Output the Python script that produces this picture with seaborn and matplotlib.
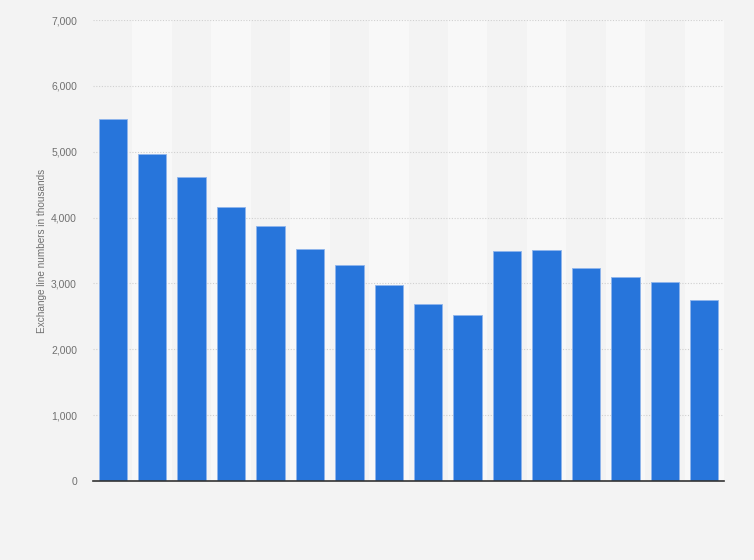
import numpy as np
import pandas as pd
import seaborn as sns
from matplotlib import pyplot as plt
from matplotlib.ticker import FuncFormatter

# no category labels are shown in the chart, so use plain positions
periods = [str(i) for i in range(1, 17)]
lines_k = [5490, 4960, 4610, 4155, 3865, 3530, 3275, 2970,
           2682, 2515, 3485, 3515, 3228, 3092, 3016, 2742]

df = pd.DataFrame({'period': periods, 'lines': lines_k})

sns.set_style('white')
plt.rcParams['font.family'] = ['Liberation Sans', 'DejaVu Sans']

fig = plt.figure(figsize=(7.54, 5.6), dpi=100)
fig.patch.set_facecolor('#f3f3f3')
ax = fig.add_axes([93 / 754, 79 / 560, 631 / 754, 461 / 560])
ax.set_facecolor('#f3f3f3')

# alternating column bands
for i in range(len(periods)):
    if i % 2 == 1:
        ax.axvspan(i - 0.5, i + 0.5, color='#f8f8f8', zorder=0, lw=0)

sns.barplot(data=df, x='period', y='lines', color='#2775db', saturation=1,
            width=0.72, edgecolor='#8fb5ec', linewidth=0.6, ax=ax, zorder=3)

ax.set_xlim(-0.5, len(periods) - 0.5)
ax.set_ylim(0, 7000)
ax.set_yticks(np.arange(0, 7001, 1000))
ax.yaxis.set_major_formatter(FuncFormatter(lambda v, p: f'{int(v):,}'))
ax.grid(axis='y', color='#d0d0d0', linestyle=(0, (1, 1.5)), linewidth=0.8, zorder=1)
ax.set_axisbelow(True)

for s in ['top', 'right', 'left']:
    ax.spines[s].set_visible(False)
ax.spines['bottom'].set_color('#333333')
ax.spines['bottom'].set_linewidth(1.2)
ax.spines['bottom'].set_zorder(5)

ax.set_xticklabels([])
ax.tick_params(axis='x', length=0)
ax.tick_params(axis='y', length=0, labelsize=7.5, labelcolor='#707070', pad=11.5)
ax.set_xlabel('')
ax.set_ylabel('Exchange line numbers in thousands', fontsize=7.2, color='#707070', labelpad=3)

fig.savefig('out.png', dpi=100, facecolor=fig.get_facecolor())
